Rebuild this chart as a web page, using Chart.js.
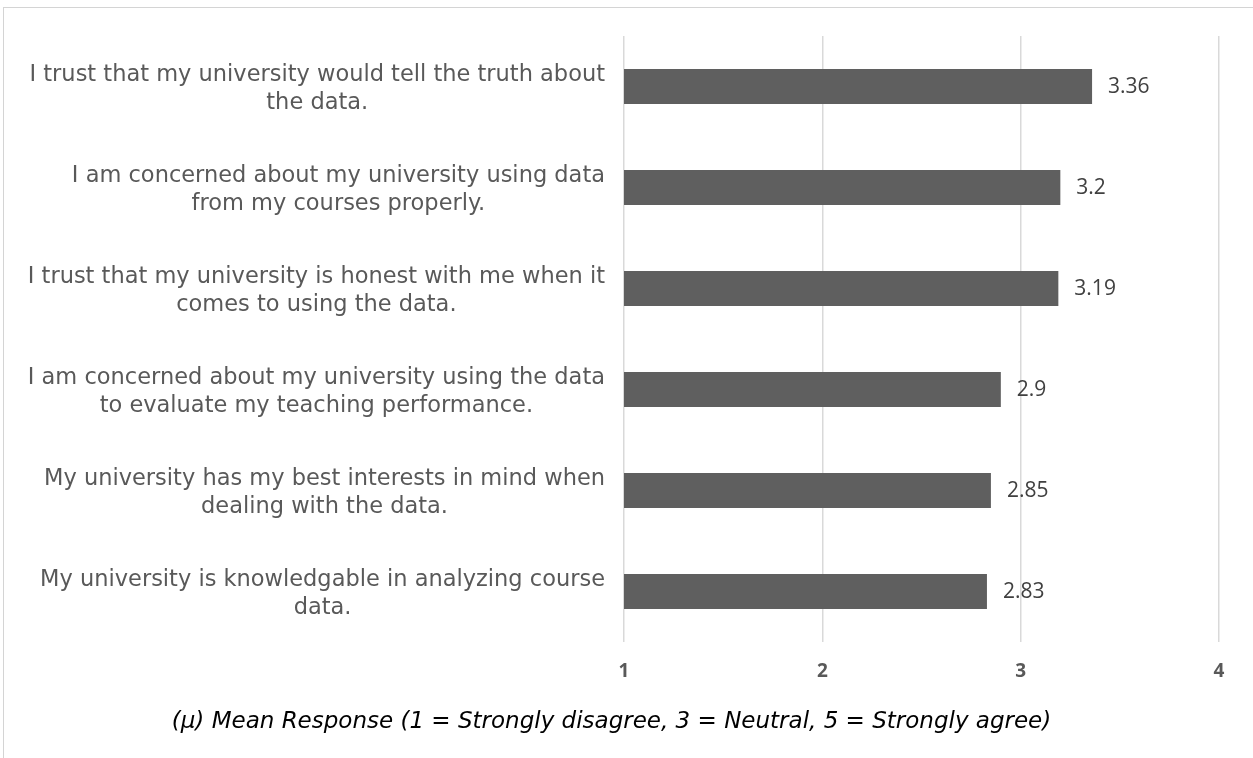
<!DOCTYPE html>
<html>
<head>
<meta charset="utf-8">
<script src="https://cdn.jsdelivr.net/npm/chart.js@4/dist/chart.umd.min.js"></script>
<style>
  html, body { margin: 0; padding: 0; background: #fff; overflow: hidden; }
  #frame {
    position: absolute; left: 3px; top: 7px;
    width: 1250px; height: 751px;
    border-top: 1px solid #d4d4d4; border-left: 1px solid #d4d4d4;
  }
  #box { position: relative; width: 1249px; height: 750px; }
</style>
</head>
<body>
<div id="frame"><div id="box"><canvas id="meanChart"></canvas></div></div>
<script>
// survey statements, top to bottom
var statements = [
  ["I trust that my university would tell the truth about", "the data."],
  ["I am concerned about my university using data", "from my courses properly."],
  ["I trust that my university is honest with me when it", "comes to using the data."],
  ["I am concerned about my university using the data", "to evaluate my teaching performance."],
  ["My university has my best interests in mind when", "dealing with the data."],
  ["My university is knowledgable in analyzing course", "data."]
];
var meanScores = [3.36, 3.2, 3.19, 2.9, 2.85, 2.83];
var axisTitle = "(\u03bc) Mean Response (1 = Strongly disagree, 3 = Neutral, 5 = Strongly agree)";

var labelFont = '22.5px "DejaVu Sans"';
var valueFont = '21px "Open Sans"';

// statement labels: block right aligned, lines centred inside the block
var statementLabels = {
  id: 'statementLabels',
  afterDraw: function (chart) {
    var ctx = chart.ctx, yAxis = chart.scales.y;
    ctx.save();
    ctx.font = labelFont;
    ctx.fillStyle = '#595959';
    ctx.textAlign = 'center';
    ctx.textBaseline = 'middle';
    var right = 601;
    statements.forEach(function (lines, i) {
      var yc = yAxis.getPixelForValue(i) + 3;
      var maxW = 0;
      lines.forEach(function (l) { maxW = Math.max(maxW, ctx.measureText(l).width); });
      var x = right - maxW / 2;
      var step = 28;
      var y0 = yc - (lines.length - 1) * step / 2;
      lines.forEach(function (l, k) { ctx.fillText(l, x, y0 + k * step); });
    });
    ctx.restore();
  }
};

// value labels next to the bar ends
var valueLabels = {
  id: 'valueLabels',
  afterDatasetsDraw: function (chart) {
    var ctx = chart.ctx;
    var meta = chart.getDatasetMeta(0);
    ctx.save();
    ctx.font = valueFont;
    ctx.fillStyle = '#404040';
    ctx.textAlign = 'left';
    ctx.textBaseline = 'middle';
    meta.data.forEach(function (bar, i) {
      ctx.fillText(String(meanScores[i]), bar.x + 16, bar.y + 1);
    });
    ctx.restore();
  }
};

new Chart(document.getElementById('meanChart'), {
  type: 'bar',
  data: {
    labels: statements,
    datasets: [{
      data: meanScores,
      backgroundColor: '#5f5f5f',
      borderWidth: 0,
      categoryPercentage: 1,
      barPercentage: 0.347
    }]
  },
  options: {
    indexAxis: 'y',
    responsive: true,
    maintainAspectRatio: false,
    animation: false,
    layout: { padding: { top: 28, right: 34, left: 0, bottom: 0 } },
    scales: {
      x: {
        min: 1, max: 4,
        ticks: {
          stepSize: 1,
          color: '#595959',
          font: { family: 'Open Sans', size: 19, weight: 'bold' },
          padding: 18
        },
        grid: { color: '#d9d9d9', lineWidth: 1.5, drawTicks: false },
        border: { display: false },
        afterFit: function (scale) { scale.height = 56.4; }
      },
      y: {
        ticks: { display: false },
        grid: { display: false },
        border: { display: false },
        afterFit: function (scale) { scale.width = 620; }
      }
    },
    plugins: {
      legend: { display: false },
      tooltip: { enabled: false },
      title: {
        display: true,
        position: 'bottom',
        text: axisTitle,
        color: '#000',
        font: { family: 'DejaVu Sans', size: 23, style: 'italic', weight: 'normal', lineHeight: 1.2 },
        padding: { top: 10, bottom: 22 }
      }
    }
  },
  plugins: [statementLabels, valueLabels]
});
</script>
</body>
</html>
